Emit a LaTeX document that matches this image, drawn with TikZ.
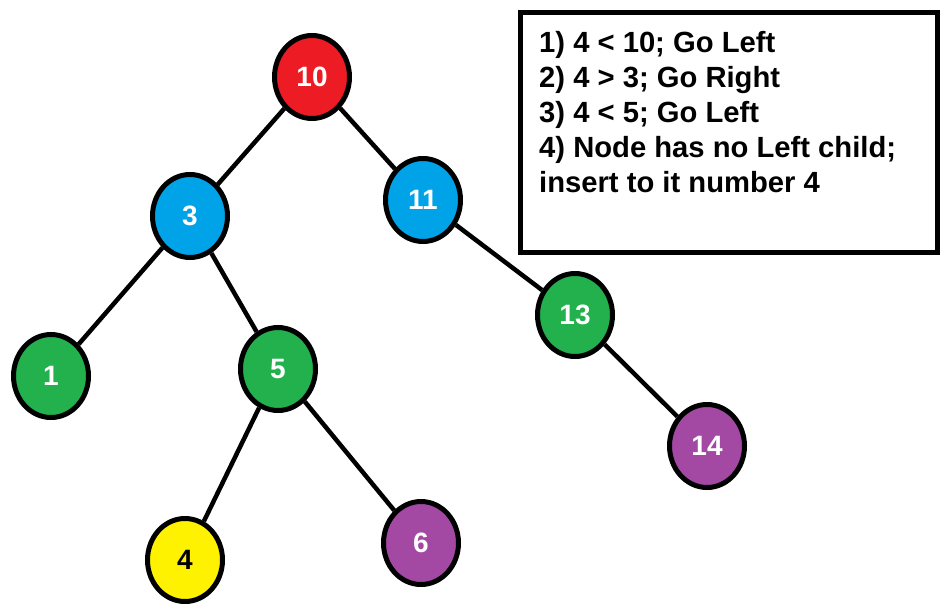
\documentclass[tikz,border=0pt]{standalone}
\usepackage{fontspec}
\setmainfont{Liberation Sans}
\usetikzlibrary{shapes.geometric}
\definecolor{pred}{HTML}{ED1C24}
\definecolor{pblue}{HTML}{00A2E8}
\definecolor{pgreen}{HTML}{22B14C}
\definecolor{ppurple}{HTML}{A349A4}
\definecolor{pyellow}{HTML}{FFF200}
\tikzset{
  tnode/.style={ellipse, draw=black, line width=5pt, minimum width=75pt, minimum height=83pt, inner sep=0pt, text=white, font=\fontsize{28}{30}\selectfont\bfseries},
  edge/.style={line width=4.5pt},
  steptext/.style={anchor=base west, inner sep=0pt, font=\fontsize{29.2}{30}\selectfont\bfseries}
}
\begin{document}
\begin{tikzpicture}[x=1pt,y=-1pt]
\useasboundingbox (0,0) rectangle (952,612);
\fill[white] (0,0) rectangle (952,612);
\node[tnode, fill=pred] (n10) at (312,77) {10};
\node[tnode, fill=pblue] (n3) at (190,216) {3};
\node[tnode, fill=pblue] (n11) at (423,200) {11};
\node[tnode, fill=pgreen] (n1) at (51,376) {1};
\node[tnode, fill=pgreen] (n5) at (278,369) {5};
\node[tnode, fill=pgreen] (n13) at (575,315) {13};
\node[tnode, fill=ppurple] (n14) at (707,446) {14};
\node[tnode, fill=pyellow, text=black] (n4) at (185,560) {4};
\node[tnode, fill=ppurple] (n6) at (421,543) {6};
\draw[edge] (n10) -- (n3);
\draw[edge] (n10) -- (n11);
\draw[edge] (n3) -- (n1);
\draw[edge] (n3) -- (n5);
\draw[edge] (n11) -- (n13);
\draw[edge] (n13) -- (n14);
\draw[edge] (n5) -- (n4);
\draw[edge] (n5) -- (n6);
\node[draw=black, line width=5pt, fill=white, minimum width=417pt, minimum height=239pt, anchor=north west, inner sep=0pt] (box) at (517.5,10.5) {};
\node[steptext] (s1) at (539,53) {1) 4 < 10; Go Left};
\node[steptext] (s2) at (539,88) {2) 4 > 3; Go Right};
\node[steptext] (s3) at (539,123) {3) 4 < 5; Go Left};
\node[steptext] (s4) at (539,158) {4) Node has no Left child;};
\node[steptext] (s5) at (539,193) {insert to it number 4};
\end{tikzpicture}
\end{document}
